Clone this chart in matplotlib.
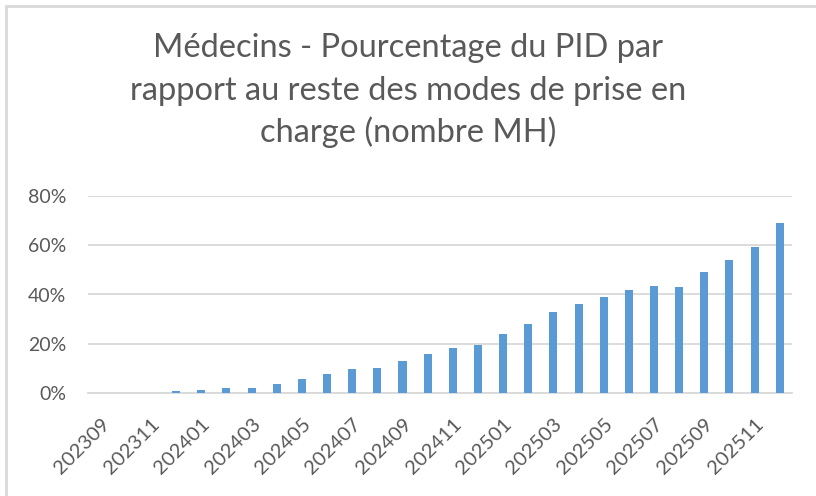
import matplotlib.pyplot as plt
from matplotlib.patches import Rectangle
from matplotlib.ticker import PercentFormatter

plt.rcParams['font.family'] = ['Lato', 'DejaVu Sans']

months = ["202309", "202310", "202311", "202312",
          "202401", "202402", "202403", "202404", "202405", "202406",
          "202407", "202408", "202409", "202410", "202411", "202412",
          "202501", "202502", "202503", "202504", "202505", "202506",
          "202507", "202508", "202509", "202510", "202511", "202512"]
pid_pct = [0.0, 0.0, 0.0, 0.8,
           1.35, 2.0, 2.3, 3.9, 5.9, 7.8,
           10.0, 10.4, 13.2, 16.1, 18.2, 19.7,
           24.2, 28.1, 33.1, 36.3, 39.1, 42.0,
           43.3, 42.9, 49.3, 53.8, 59.4, 68.8]
title_lines = ["Médecins - Pourcentage du PID par",
               "rapport au reste des modes de prise en",
               "charge (nombre MH)"]

grey = "#595959"
W, H = 816, 496

fig = plt.figure(figsize=(W / 100, H / 100), dpi=100)
ax = fig.add_axes([0.108, 0.207, 0.863, 0.3985])

x = range(len(months))
ax.bar(x, pid_pct, width=0.32, color="#5B9BD5", zorder=3)

ax.set_xlim(-0.5, len(months) - 0.5)
ax.set_ylim(0, 80)
ax.set_yticks([0, 20, 40, 60, 80])
ax.yaxis.set_major_formatter(PercentFormatter(decimals=0))
ax.set_xticks(list(x)[::2])
ax.set_xticklabels(months[::2], rotation=45, ha="right", rotation_mode="anchor")

ax.grid(axis="y", color="#d9d9d9", linewidth=1.3, zorder=0)
for s in ["top", "right", "left"]:
    ax.spines[s].set_visible(False)
ax.spines["bottom"].set_color("#d9d9d9")
ax.spines["bottom"].set_linewidth(1.3)
ax.tick_params(axis="both", length=0, colors=grey)
ax.tick_params(axis="y", pad=16, labelsize=14)
ax.tick_params(axis="x", pad=16, labelsize=14.5)

# title, one line at a time (baselines in px from top)
for line, base in zip(title_lines, [57, 99.5, 142]):
    fig.text(0.5, 1 - base / H, line, ha="center", va="baseline",
             fontsize=23.5, color=grey)

fig.patches.append(Rectangle((6 / W, -0.1), 1.2, (H - 5.5) / H + 0.1,
                             transform=fig.transFigure, fill=False,
                             edgecolor="#d9d9d9", linewidth=2))

plt.savefig("out.png", dpi=100)
